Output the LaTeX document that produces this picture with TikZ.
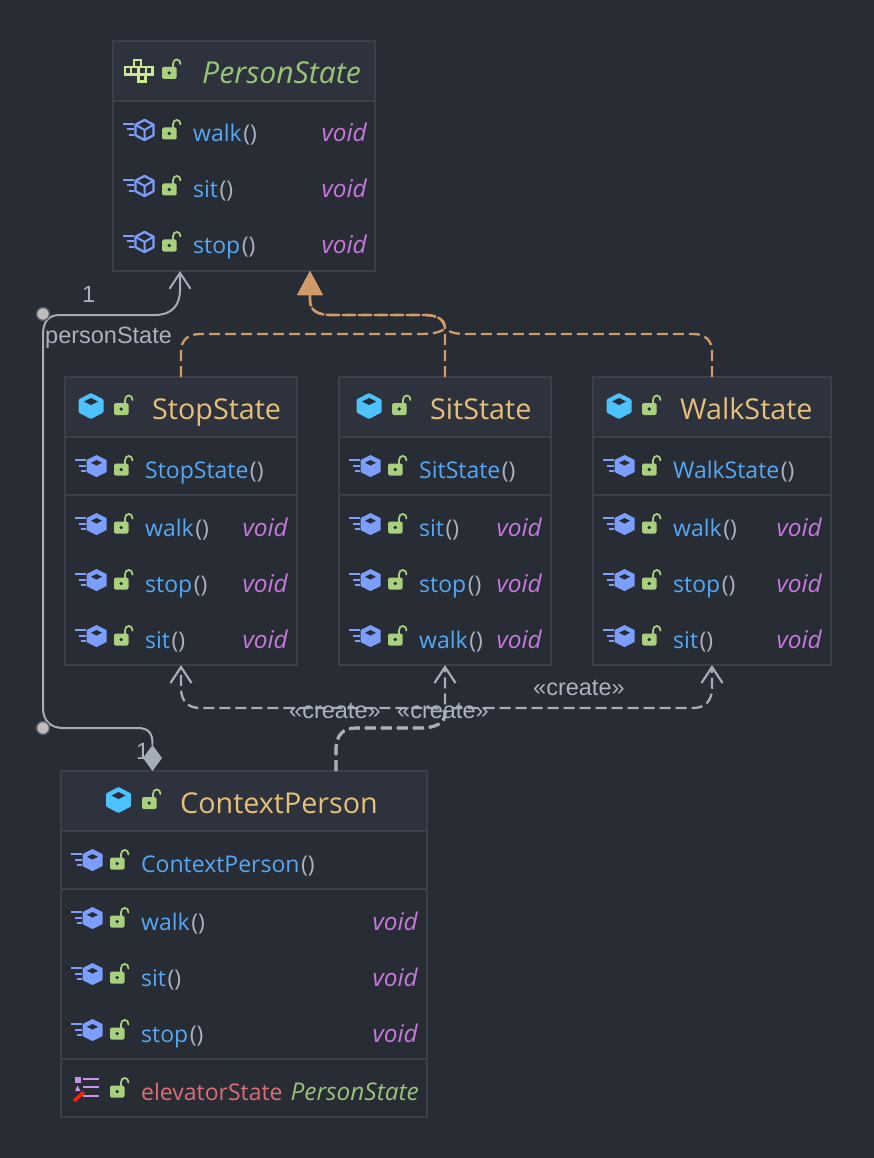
\documentclass[tikz,border=0pt]{standalone}
\usepackage{fontspec}
\setmainfont{Open Sans}
\newfontfamily\labelfont{Liberation Sans}
\usetikzlibrary{arrows.meta,shapes.geometric}
\definecolor{bgc}{HTML}{282C34}
\definecolor{headc}{HTML}{2E323C}
\definecolor{edgec}{HTML}{3A3F4A}
\definecolor{namec}{HTML}{56A8F5}
\definecolor{parenc}{HTML}{ABB2BF}
\definecolor{voidc}{HTML}{C678DD}
\definecolor{greenc}{HTML}{98C379}
\definecolor{titlec}{HTML}{E5C07B}
\definecolor{redc}{HTML}{E06C75}
\definecolor{lockc}{HTML}{A9D07F}
\definecolor{cubec}{HTML}{4EC1FF}
\definecolor{methodc}{HTML}{7C9EFF}
\definecolor{ifacec}{HTML}{C9EA8E}
\definecolor{fieldc}{HTML}{C792EA}
\definecolor{linec}{HTML}{A6ACB9}
\definecolor{orangec}{HTML}{D19A66}
\definecolor{dotc}{HTML}{BDBDBD}
\tikzset{
  x=1pt,y=-1pt,
  classbox/.style={draw=edgec,line width=1.5pt,fill=bgc,inner sep=0pt,outer sep=0pt,anchor=north west},
  headbox/.style={draw=edgec,line width=1.5pt,fill=headc,inner sep=0pt,outer sep=0pt,anchor=north west},
  divider/.style={edgec,line width=2pt},
  rowtext/.style={inner sep=0pt,anchor=base west,font=\fontsize{23}{26}\selectfont},
  rowtype/.style={inner sep=0pt,anchor=base east,font=\fontsize{24.4}{26}\itshape\selectfont},
  titletext/.style={inner sep=0pt,anchor=base west,font=\fontsize{28.7}{32}\selectfont},
  edgelabel/.style={inner sep=0pt,anchor=base west,text=parenc,font=\fontsize{23.5}{26}\labelfont},
  dashline/.style={dash pattern=on 11pt off 5pt},
  genline/.style={orangec,line width=2.3pt,dashline,-{Triangle[length=24pt,width=25pt]}},
  createline/.style={linec,line width=2.3pt,dashline,-{Straight Barb[length=16pt,width=21pt,line width=2.2pt]}},
  assocline/.style={linec,line width=2pt},
  conndot/.style={circle,fill=dotc,draw=dotc!30!bgc,line width=1.5pt,minimum size=13pt,inner sep=0pt},
  lockicon/.pic={
    \draw[lockc,line width=1.8pt,line cap=round] (3.5,-5) -- (3.5,-9) .. controls (3.5,-15) and (11,-15) .. (11,-9);
    \fill[lockc,rounded corners=1.5pt] (-7.5,-6) rectangle (7,6);
    \fill[bgc] (-0.3,0) circle[radius=1.8];
  },
  speedlines/.pic={
    \draw[methodc,line width=2pt] (-21.5,-6) -- (-11,-6) (-18,-0.5) -- (-11,-0.5) (-16,5) -- (-11,5);
  },
  solidmethod/.pic={
    \pic {speedlines};
    \fill[methodc] (0,-11) -- (10,-6) -- (10,6) -- (0,11) -- (-10,6) -- (-10,-6) -- cycle;
    \fill[bgc] (0,-6) -- (5.5,-3.2) -- (0,-0.4) -- (-5.5,-3.2) -- cycle;
  },
  outlinemethod/.pic={
    \pic {speedlines};
    \draw[methodc,line width=2.3pt,line join=round] (0,-10) -- (9,-5.3) -- (9,5.3) -- (0,10) -- (-9,5.3) -- (-9,-5.3) -- cycle;
    \draw[methodc,line width=2pt] (-9,-5.3) -- (0,0) -- (9,-5.3) (0,0) -- (0,10);
  },
  classcube/.pic={
    \fill[cubec,rounded corners=1pt] (0,-13) -- (12.5,-6.5) -- (12.5,6.5) -- (0,13) -- (-12.5,6.5) -- (-12.5,-6.5) -- cycle;
    \fill[bgc] (0,-8) -- (7,-4.5) -- (0,-1) -- (-7,-4.5) -- cycle;
  },
  ifaceicon/.pic={
    \draw[ifacec,line width=2.3pt]
      (10,0.5) rectangle (17,7.5)
      (1,7.5) rectangle (7.3,15) (7.3,7.5) rectangle (14.6,15)
      (14.6,7.5) rectangle (22,15) (22,7.5) rectangle (28.5,15)
      (14.6,15) rectangle (21.5,22);
  },
  fieldicon/.pic={
    \fill[fieldc] (75,1077) rectangle (80.5,1083);
    \fill[fieldc] (75,1091) -- (77.7,1085.5) -- (80.5,1091) -- cycle;
    \draw[fieldc,line width=2.6pt] (83,1079) -- (99,1079) (83,1087) -- (99,1087) (83,1096) -- (99,1096);
    \draw[red!75!orange,line width=3.6pt] (74,1101) -- (84,1092);
  }
}
% name, x1, y1, x2, y2
\newcommand{\classframe}[5]{%
  \pgfmathsetmacro{\framew}{#4-#2}\pgfmathsetmacro{\frameh}{#5-#3}%
  \node[classbox,minimum width=\framew pt,minimum height=\frameh pt] (#1) at (#2,#3) {};
  \node[headbox,minimum width=\framew pt,minimum height=60pt] (#1-head) at (#2,#3) {};
}
% name, hexagon x, lock x, text x, type right x, baseline, label, solid/outline pic
\newcommand{\methodrow}[8]{%
  \pic at (#2,#6-12) {#8};
  \pic at (#3-1.5,#6-8.5) {lockicon};
  \node[rowtext] (#1-name) at (#4,#6) {\textcolor{namec}{#7}\kern1.5pt\textcolor{parenc}{()}};
  \ifx\relax#5\relax\else
  \node[rowtype,text=voidc] (#1-type) at (#5,#6) {void};\fi
}
% name, cube x, lock x, text x, baseline, label
\newcommand{\classtitle}[6]{%
  \pic at (#2,#5-13.5) {classcube};
  \pic at (#3-1.5,#5-10.5) {lockicon};
  \node[titletext,text=titlec] (#1-title) at (#4,#5) {#6};
}
\begin{document}
\begin{tikzpicture}
\useasboundingbox (0,0) rectangle (874,1158);
\fill[bgc] (0,0) rectangle (874,1158);

% ---- PersonState
\classframe{person}{113}{41}{375}{271}
\pic at (124,59.5) {ifaceicon};
\pic at (169.5,73) {lockicon};
\node[titletext,text=greenc,font=\fontsize{30.2}{32}\itshape\selectfont] (person-title) at (202,84) {PersonState};
\methodrow{pwalk}{144.5}{171}{193}{367}{142}{walk}{outlinemethod}
\methodrow{psit}{144.5}{171}{193}{367}{198}{sit}{outlinemethod}
\methodrow{pstop}{144.5}{171}{193}{367}{254}{stop}{outlinemethod}

% ---- StopState
\classframe{stop}{65}{377}{297}{665}
\draw[divider] (66,495) -- (296,495);
\classtitle{stop}{91}{123}{152}{419.5}{StopState}
\methodrow{sctor}{96.5}{123}{145}{}{478}{StopState}{solidmethod}
\methodrow{swalk}{96.5}{123}{145}{288}{536}{walk}{solidmethod}
\methodrow{sstop}{96.5}{123}{145}{288}{592}{stop}{solidmethod}
\methodrow{ssit}{96.5}{123}{145}{288}{648}{sit}{solidmethod}

% ---- SitState
\classframe{sit}{339}{377}{551}{665}
\draw[divider] (340,495) -- (550,495);
\classtitle{sit}{369}{401}{430}{419.5}{SitState}
\methodrow{tctor}{370.5}{397}{419}{}{478}{SitState}{solidmethod}
\methodrow{tsit}{370.5}{397}{419}{542}{536}{sit}{solidmethod}
\methodrow{tstop}{370.5}{397}{419}{542}{592}{stop}{solidmethod}
\methodrow{twalk}{370.5}{397}{419}{542}{648}{walk}{solidmethod}

% ---- WalkState
\classframe{walk}{593}{377}{831}{665}
\draw[divider] (594,495) -- (830,495);
\classtitle{walk}{619}{651}{680}{419.5}{WalkState}
\methodrow{wctor}{624.5}{651}{673}{}{478}{WalkState}{solidmethod}
\methodrow{wwalk}{624.5}{651}{673}{822}{536}{walk}{solidmethod}
\methodrow{wstop}{624.5}{651}{673}{822}{592}{stop}{solidmethod}
\methodrow{wsit}{624.5}{651}{673}{822}{648}{sit}{solidmethod}

% ---- ContextPerson
\classframe{context}{61}{771}{427}{1117}
\draw[divider] (62,889) -- (426,889);
\draw[divider] (62,1059) -- (426,1059);
\classtitle{context}{118.5}{151}{180}{813.5}{ContextPerson}
\methodrow{cctor}{92.5}{119}{141}{}{872}{ContextPerson}{solidmethod}
\methodrow{cwalk}{92.5}{119}{141}{418}{930}{walk}{solidmethod}
\methodrow{csit}{92.5}{119}{141}{418}{986}{sit}{solidmethod}
\methodrow{cstop}{92.5}{119}{141}{418}{1042}{stop}{solidmethod}
\pic at (0,0) {fieldicon};
\pic at (117.5,1091.5) {lockicon};
\node[rowtext,text=redc] (field-name) at (141,1100) {elevatorState};
\node[rowtype,text=greenc] (field-type) at (419,1100) {PersonState};

% ---- anchors for connector ends
\coordinate (assocTip) at ([xshift=67pt]person.south west);
\coordinate (genTip) at ([xshift=197pt]person.south west);
\coordinate (createStart) at ([xshift=275pt]context.north west);

% ---- generalisation (dashed orange, shared trunk)
\draw[genline] (sit.north) -- (445,330) .. controls (445,320) and (437,315) .. (425,315) -- (332,315) .. controls (318,315) and (310,311) .. (310,300) -- (genTip);
\draw[genline] (stop.north) -- (181,352) .. controls (181,340) and (188,334) .. (200,334) -- (420,334) .. controls (438,334) and (445,330) .. (445,327) .. controls (445,320) and (437,315) .. (425,315) -- (332,315) .. controls (318,315) and (310,311) .. (310,300) -- (genTip);
\draw[genline] (walk.north) -- (712,352) .. controls (712,340) and (705,334) .. (693,334) -- (465,334) .. controls (452,334) and (445,330) .. (445,327) .. controls (445,320) and (437,315) .. (425,315) -- (332,315) .. controls (318,315) and (310,311) .. (310,300) -- (genTip);

% ---- create (dashed grey)
\draw[createline] (createStart) -- (336,750) .. controls (336,735) and (343,728) .. (356,728) -- (420,728) .. controls (437,728) and (445,722) .. (445,712) -- (sit.south);
\draw[createline] (createStart) -- (336,750) .. controls (336,735) and (343,728) .. (356,728) -- (420,728) .. controls (437,728) and (445,722) .. (445,714) .. controls (445,710) and (440,708) .. (430,708) -- (200,708) .. controls (188,708) and (181,701) .. (181,688) -- (stop.south);
\draw[createline] (createStart) -- (336,750) .. controls (336,735) and (343,728) .. (356,728) -- (420,728) .. controls (437,728) and (445,722) .. (445,714) .. controls (445,710) and (450,708) .. (460,708) -- (693,708) .. controls (705,708) and (712,701) .. (712,688) -- (walk.south);
\draw[linec,line width=3.2pt,dashline] (createStart) -- (336,750) .. controls (336,735) and (343,728) .. (356,728) -- (420,728) .. controls (437,728) and (445,722) .. (445,714);

% ---- labels
\node[edgelabel] (assoc-mult-top) at (82,302) {1};
\node[edgelabel] (assoc-role) at (45,343) {personState};
\node[edgelabel] (assoc-mult-bottom) at (136,759) {1};
\node[edgelabel] (create-stop) at (289,718) {«create»};
\node[edgelabel] (create-sit) at (397,718) {«create»};
\node[edgelabel] (create-walk) at (533,695) {«create»};

% ---- association with composition diamond and bend dots
\node[diamond,fill=linec,inner sep=0pt,outer sep=0pt,minimum width=19pt,minimum height=26pt,shape aspect=0.73] (comp) at ([xshift=-91.5pt,yshift=13pt]context.north) {};
\draw[assocline,-{Straight Barb[length=16pt,width=21pt,line width=2pt]}] (comp.north) .. controls (153,733) and (148,728) .. (138,728) -- (63,728) .. controls (50,728) and (43,720) .. (43,708) -- (43,335) .. controls (43,322) and (48,315) .. (60,315) -- (155,315) .. controls (172,315) and (180,305) .. (180,290) -- (assocTip);
\node[conndot] (bend-top) at (43,314) {};
\node[conndot] (bend-bottom) at (43,728) {};
\end{tikzpicture}
\end{document}
